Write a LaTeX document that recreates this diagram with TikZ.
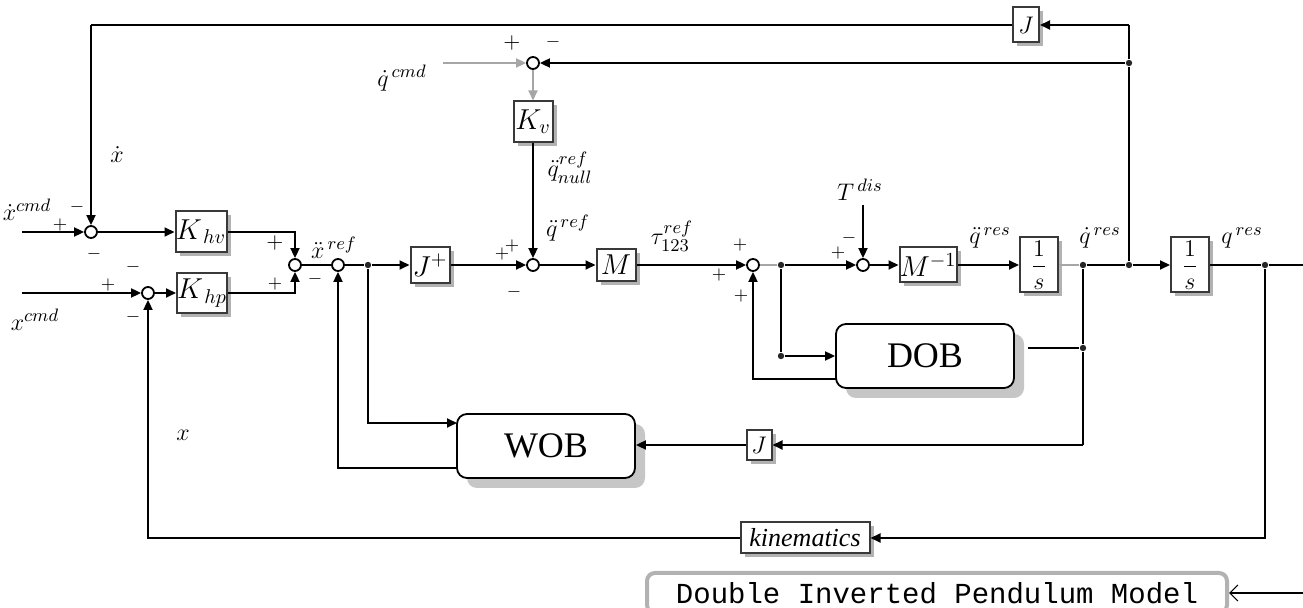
\documentclass[tikz,border=0pt]{standalone}
\usepackage{fontspec}
\setmainfont{Liberation Serif}
\setmonofont{Liberation Mono}
\usetikzlibrary{arrows.meta,shadows}
\begin{document}
\begin{tikzpicture}[x=0.5pt,y=-0.5pt,
  line width=0.9pt,
  arr/.style={-{Triangle[length=5pt,width=4.5pt]}},
  garr/.style={arr,draw=gray!70},
  gline/.style={draw=gray!70},
  blk/.style={draw=gray!45!black,line width=1pt,fill=white,inner sep=0pt,
      font=\fontsize{14}{16}\selectfont,
      drop shadow={shadow xshift=2pt,shadow yshift=-2pt,fill=gray!60,opacity=1}},
  obs/.style={draw=black,line width=0.9pt,fill=white,rounded corners=5pt,
      minimum width=89pt,minimum height=32pt,font=\fontsize{18}{20}\selectfont,
      drop shadow={shadow xshift=5pt,shadow yshift=-5pt,fill=gray!45,opacity=1}},
  sumj/.style={circle,draw=black,line width=0.9pt,fill=white,minimum size=6pt,inner sep=0pt},
  jdot/.style={circle,fill=gray!30!black,minimum size=3.2pt,inner sep=0pt},
  sgn/.style={font=\fontsize{9}{10}\selectfont,inner sep=0pt},
  lbl/.style={font=\fontsize{13}{15}\selectfont,inner sep=0pt}
]
\useasboundingbox (0,0) rectangle (1303,608);

% ---------- summing junctions ----------
\node[sumj] (sjv) at (91,232) {};
\node[sumj] (sjp) at (148,293) {};
\node[sumj] (sja) at (295,265) {};
\node[sumj] (sjx) at (338,265) {};
\node[sumj] (sjqc) at (533,63) {};
\node[sumj] (sjq) at (533,265) {};
\node[sumj] (sjt) at (753,265) {};
\node[sumj] (sjd) at (863,265) {};

% ---------- blocks ----------
\node[blk,minimum width=25.5pt,minimum height=20.5pt] (Khv) at (201,232) {$K_{\,hv}$};
\node[blk,minimum width=25pt,minimum height=20pt] (Khp) at (202,293) {$K_{\,hp}$};
\node[blk,minimum width=19.5pt,minimum height=18pt] (Jp) at (430,265) {$J^{+}$};
\node[blk,minimum width=19.5pt,minimum height=20.5pt] (Kv) at (533,122) {$K_{v}$};
\node[blk,minimum width=19.5pt,minimum height=16pt] (M) at (616,265) {$M$};
\node[blk,minimum width=28.5pt,minimum height=17.5pt] (Minv) at (928,265) {$M^{-1}$};
\node[blk,minimum width=19pt,minimum height=27.5pt,font=\fontsize{12}{14}\selectfont] (int1) at (1039,265) {$\displaystyle\frac{1}{s}$};
\node[blk,minimum width=19pt,minimum height=27.5pt,font=\fontsize{12}{14}\selectfont] (int2) at (1190,265) {$\displaystyle\frac{1}{s}$};
\node[blk,minimum width=13pt,minimum height=17.5pt,font=\fontsize{12}{14}\selectfont] (Jtop) at (1026,25) {$J$};
\node[blk,minimum width=12.5pt,minimum height=15pt,font=\fontsize{12}{14}\selectfont] (Jlow) at (759,445) {$J$};
\node[blk,minimum width=64.5pt,minimum height=15.5pt,font=\fontsize{13}{15}\selectfont\itshape] (kin) at (805,538) {kinematics};
\node[obs] (DOB) at (925,356) {DOB};
\node[obs] (WOB) at (546,446) {WOB};
\node[draw=gray!60,line width=2pt,rounded corners=4pt,fill=white,minimum width=290pt,minimum height=20pt,inner sep=0pt,
      font=\fontsize{14.5}{16}\selectfont\ttfamily] (DIPM) at (937,593) {Double Inverted Pendulum Model};

% ---------- branch dots ----------
\node[jdot] (d6) at (368,265) {};
\node[jdot] (d1) at (781,265) {};
\node[jdot] (d7) at (781,356) {};
\node[jdot] (d2) at (1083,265) {};
\node[jdot] (d8) at (1083,348) {};
\node[jdot] (d3) at (1129,265) {};
\node[jdot] (d5) at (1129,63) {};
\node[jdot] (d4) at (1265,265) {};

% ---------- free ends ----------
\coordinate (inxd) at (22,232);
\coordinate (inx) at (22,293);
\coordinate (inqc) at (443,63);
\coordinate (topR) at (1129,25);
\coordinate (topL) at (91,25);
\coordinate (tdis) at (863,205);
\coordinate (outR) at (1303,265);
\coordinate (wobin) at (457,423);
\coordinate (wobout) at (457,468);
\coordinate (dobout) at (836,379);
\coordinate (dobin2) at (1028,348);
\coordinate (jl) at (1083,445);
\coordinate (dipmin) at (1303,593);

% ---------- connectors ----------
\draw[arr] (inxd) -- (sjv.west);
\draw[arr] (inx) -- (sjp.west);
\draw[arr] (sjv.east) -- (Khv.west);
\draw[arr] (sjp.east) -- (Khp.west);
\draw[arr] (Khv.east) -| (sja.north);
\draw[arr] (Khp.east) -| (sja.south);
\draw (sja.east) -- (sjx.west);
\draw (sjx.east) -- (d6);
\draw[arr] (d6) -- (Jp.west);
\draw[arr] (d6) |- (wobin);
\draw[arr] (wobout) -| (sjx.south);
\draw[arr] (Jp.east) -- (sjq.west);
\draw[arr] (Kv.south) -- (sjq.north);
\draw[garr] (inqc) -- (sjqc.west);
\draw[garr] (sjqc.south) -- (Kv.north);
\draw[arr] (d5) -- (sjqc.east);
\draw (d3) -- (d5) -- (topR);
\draw[arr] (topR) -- (Jtop.east);
\draw (Jtop.west) -- (topL);
\draw[arr] (topL) -- (sjv.north);
\draw[arr] (sjq.east) -- (M.west);
\draw[arr] (M.east) -- (sjt.west);
\draw[gline] (sjt.east) -- (d1);
\draw[arr] (d1) -- (sjd.west);
\draw[arr] (tdis) -- (sjd.north);
\draw[arr] (sjd.east) -- (Minv.west);
\draw[arr] (Minv.east) -- (int1.west);
\draw[gline] (int1.east) -- (d2);
\draw (d2) -- (d3);
\draw[arr] (d3) -- (int2.west);
\draw (int2.east) -- (d4) -- (outR);
\draw (d1) -- (d7);
\draw[arr] (d7) -- (DOB.west);
\draw[arr] (dobout) -| (sjt.south);
\draw (d2) -- (d8) -- (jl);
\draw (d8) -- (dobin2);
\draw[arr] (jl) -- (Jlow.east);
\draw[arr] (Jlow.west) -- (Jlow.west -| WOB.east);
\draw[arr] (d4) |- (kin.east);
\draw[arr] (kin.west) -| (sjp.south);
\draw[-{Straight Barb[length=4pt,width=8pt]},line width=0.6pt] (dipmin) -- (DIPM.east);

% ---------- signal labels ----------
\node[lbl] (lxdc) at (27,210) {$\dot{x}^{cmd}$};
\node[lbl] (lxc) at (35,320) {$x^{cmd}$};
\node[lbl] (lxd) at (117,155) {$\dot{x}$};
\node[lbl] (lx) at (183,435) {$x$};
\node[lbl] (lqdc) at (402,78) {$\dot{q}^{\,cmd}$};
\node[lbl] (lqnull) at (570,168) {$\ddot{q}^{ref}_{null}$};
\node[lbl] (lqref) at (568,228) {$\ddot{q}^{\,ref}$};
\node[lbl] (lxref) at (334,248) {$\ddot{x}^{\,ref}$};
\node[lbl] (ltau) at (672,236) {$\tau^{ref}_{123}$};
\node[lbl] (ltdis) at (860,190) {$T^{\,dis}$};
\node[lbl] (lqres2) at (990,238) {$\ddot{q}^{\,res}$};
\node[lbl] (lqres1) at (1100,238) {$\dot{q}^{\,res}$};
\node[lbl] (lqres0) at (1242,238) {$q^{\,res}$};

% ---------- signs ----------
\node[sgn] at (60,225) {$+$};
\node[sgn] at (77,207) {$-$};
\node[sgn] at (94,254) {$-$};
\node[sgn] at (108,285) {$+$};
\node[sgn] at (133,267) {$-$};
\node[sgn] at (133,317) {$-$};
\node[sgn,font=\fontsize{11}{12}\selectfont] at (275,243) {$+$};
\node[sgn] at (275,284) {$+$};
\node[sgn] at (315,279) {$-$};
\node[sgn,font=\fontsize{11}{12}\selectfont] at (512,43) {$+$};
\node[sgn] at (553,42) {$-$};
\node[sgn] at (502,254) {$+$};
\node[sgn] at (512,246) {$+$};
\node[sgn] at (514,292) {$-$};
\node[sgn] at (740,245) {$+$};
\node[sgn] at (719,275) {$+$};
\node[sgn] at (741,296) {$+$};
\node[sgn] at (838,253) {$+$};
\node[sgn] at (849,238) {$-$};
\end{tikzpicture}
\end{document}
